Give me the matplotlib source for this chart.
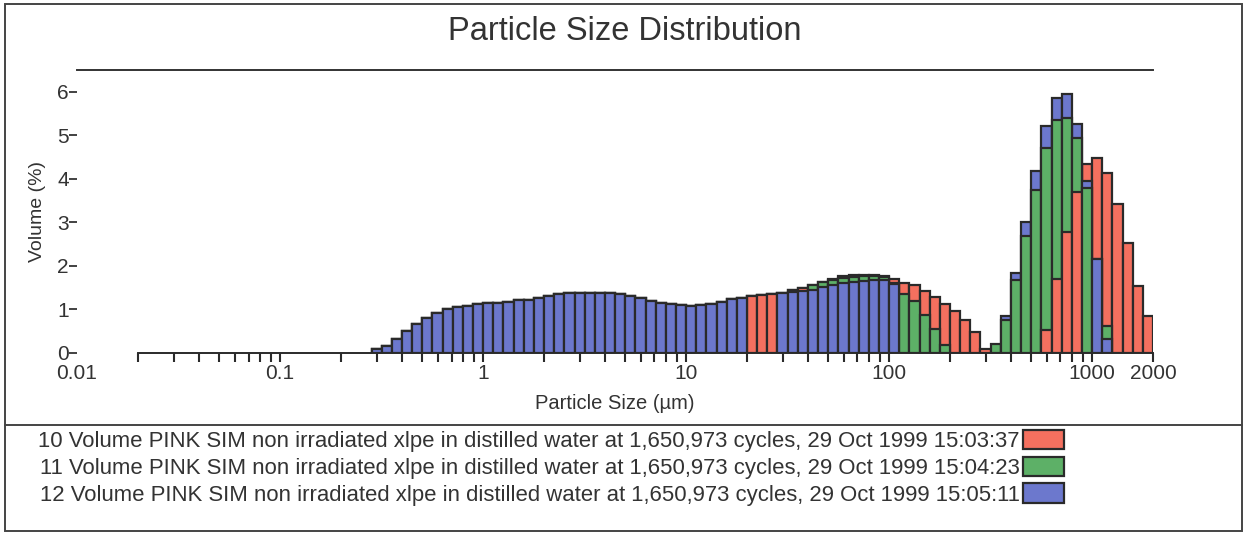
import numpy as np
import matplotlib
matplotlib.use('Agg')
import matplotlib.pyplot as plt
from matplotlib.patches import Patch, Rectangle
from matplotlib.lines import Line2D
from matplotlib.ticker import FixedLocator, NullFormatter

plt.rcParams['font.family'] = ['Liberation Sans', 'DejaVu Sans']

# Mastersizer style grid: 100 log bins, 0.02 .. 2000 um (20 per decade)
N_BINS = 100
FIRST_BIN = 22
bin_edges = 0.02 * 10 ** (np.arange(N_BINS + 1) / 20)

# volume % per bin, starting at bin 22 (~0.25 um)
red_vals = [0.00, 0.07, 0.15, 0.31, 0.50, 0.65, 0.79, 0.92, 0.99, 1.05,
            1.08, 1.12, 1.14, 1.15, 1.16, 1.20, 1.21, 1.26, 1.31, 1.34,
            1.36, 1.38, 1.38, 1.38, 1.37, 1.34, 1.31, 1.25, 1.18, 1.14,
            1.11, 1.09, 1.08, 1.09, 1.12, 1.16, 1.22, 1.26, 1.30, 1.32,
            1.34, 1.38, 1.43, 1.48, 1.56, 1.63, 1.70, 1.75, 1.78, 1.79,
            1.79, 1.77, 1.70, 1.60, 1.55, 1.41, 1.28, 1.12, 0.95, 0.75,
            0.47, 0.09, 0, 0, 0, 0, 0, 0.51, 1.68, 2.77,
            3.70, 4.33, 4.47, 4.14, 3.42, 2.52, 1.53, 0.85]
green_vals = [0.00, 0.07, 0.15, 0.31, 0.50, 0.65, 0.79, 0.92, 0.99, 1.05,
              1.08, 1.12, 1.14, 1.15, 1.16, 1.20, 1.21, 1.26, 1.31, 1.34,
              1.36, 1.38, 1.38, 1.38, 1.37, 1.34, 1.31, 1.25, 1.18, 1.14,
              1.11, 1.09, 1.08, 1.10, 1.12, 1.16, 1.22, 1.26, 1.31, 1.33,
              1.35, 1.38, 1.44, 1.49, 1.55, 1.62, 1.67, 1.71, 1.74, 1.75,
              1.75, 1.73, 1.59, 1.35, 1.18, 0.86, 0.55, 0.18, 0, 0,
              0, 0, 0.19, 0.74, 1.66, 2.67, 3.74, 4.71, 5.34, 5.40,
              4.93, 3.78, 2.16, 0.60, 0, 0, 0, 0]
blue_vals = [0.00, 0.07, 0.15, 0.31, 0.50, 0.65, 0.79, 0.92, 0.99, 1.05,
             1.08, 1.12, 1.14, 1.15, 1.16, 1.20, 1.21, 1.26, 1.31, 1.34,
             1.36, 1.38, 1.38, 1.38, 1.37, 1.34, 1.31, 1.25, 1.18, 1.14,
             1.11, 1.09, 1.08, 1.09, 1.12, 1.16, 1.22, 1.26, 1.31, 1.33,
             1.35, 1.37, 1.40, 1.41, 1.44, 1.50, 1.55, 1.60, 1.63, 1.65,
             1.66, 1.66, 1.58, 0, 0, 0, 0, 0, 0, 0,
             0, 0, 0, 0.85, 1.84, 3.00, 4.17, 5.21, 5.86, 5.94,
             5.26, 3.95, 2.15, 0.32, 0, 0, 0, 0]

labels = [
    "10 Volume PINK SIM non irradiated xlpe in distilled water at 1,650,973 cycles, 29 Oct 1999 15:03:37",
    "11 Volume PINK SIM non irradiated xlpe in distilled water at 1,650,973 cycles, 29 Oct 1999 15:04:23",
    "12 Volume PINK SIM non irradiated xlpe in distilled water at 1,650,973 cycles, 29 Oct 1999 15:05:11",
]
colors = ['#F4705F', '#5DB067', '#6C78CD']
EDGE = '#2a2a2a'
TXT = '#333333'

x_ticks = [0.01, 0.1, 1, 10, 100, 1000, 2000]
x_ticklabels = ['0.01', '0.1', '1', '10', '100', '1000', '2000']

W, H = 1245, 534
fig = plt.figure(figsize=(W / 100, H / 100), dpi=100)
ax = fig.add_axes([77 / W, 1 - 352.5 / H, (1153 - 77) / W, (352.5 - 70) / H])

series = []
for vals in (red_vals, green_vals, blue_vals):
    h = np.zeros(N_BINS)
    h[FIRST_BIN:FIRST_BIN + len(vals)] = vals
    series.append(h)
series = np.array(series)

# overlapping bars: tallest at the back, shorter ones in front
zorders = np.zeros_like(series)
for j in range(N_BINS):
    order = sorted(range(3), key=lambda s: (-series[s, j], s))
    for pos, s in enumerate(order):
        zorders[s, j] = 2 + 0.1 * pos

lefts = bin_edges[:-1]
widths = np.diff(bin_edges)
for s in range(3):
    bars = ax.bar(lefts, series[s], width=widths, align='edge',
                  color=colors[s], edgecolor=EDGE, linewidth=1.6)
    for patch, h, z in zip(bars, series[s], zorders[s]):
        if h <= 0:
            patch.set_visible(False)
        else:
            patch.set_zorder(z)

ax.set_xscale('log')
ax.set_xlim(0.01, 2000)
ax.set_ylim(0, 6.5)

for side in ('left', 'right'):
    ax.spines[side].set_visible(False)
ax.spines['top'].set_color('#333333')
ax.spines['top'].set_linewidth(1.4)
ax.spines['bottom'].set_color(EDGE)
ax.spines['bottom'].set_linewidth(1.4)
ax.spines['bottom'].set_bounds(0.02, 2000)
ax.spines['bottom'].set_zorder(5)

ax.set_xticks(x_ticks)
ax.set_xticklabels(x_ticklabels)
minor = [m * 10.0 ** e for e in range(-2, 3) for m in range(2, 10)]
ax.xaxis.set_minor_locator(FixedLocator(minor))
ax.xaxis.set_minor_formatter(NullFormatter())
ax.tick_params(axis='x', which='both', direction='out', length=6.5, width=1.5,
               color=EDGE, labelcolor=TXT, labelsize=15, pad=2)
ax.xaxis.get_major_ticks()[0].tick1line.set_visible(False)

ax.set_yticks(range(7))
ax.tick_params(axis='y', direction='out', length=6, width=1.3, color=TXT,
               labelcolor=TXT, labelsize=15, pad=0)

ax.set_ylabel('Volume (%)', fontsize=14, color=TXT)
ax.yaxis.set_label_coords(-0.029, 0.5)
ax.set_xlabel('Particle Size (\u00b5m)', fontsize=14.5, color=TXT, va='top')
ax.xaxis.set_label_coords(0.5, -0.147)

fig.text(625 / W, 1 - 31 / H, 'Particle Size Distribution', ha='center', va='center',
         fontsize=23.5, color=TXT)

# outer frame and legend separator
fig.add_artist(Rectangle((5 / W, 1 - 531 / H), (1242 - 5) / W, (531 - 4) / H,
                         transform=fig.transFigure, fill=False, ec='#444444', lw=1.4))
fig.add_artist(Line2D([5 / W, 1242 / W], [1 - 425 / H, 1 - 425 / H],
                      transform=fig.transFigure, color='#444444', lw=1.4))

# fit legend text to the width it takes in the picture
renderer = fig.canvas.get_renderer()
probe = fig.text(0, 0, labels[0], fontsize=10)
w10 = probe.get_window_extent(renderer).width
probe.remove()
leg_fs = 10 * 980 / w10
fs_px = leg_fs * 100 / 72

handles = [Patch(facecolor=c, edgecolor=EDGE, linewidth=1.6) for c in colors]
fig.legend(handles=handles, labels=labels, loc='upper left',
           bbox_to_anchor=(38 / W, 1 - 430 / H), frameon=False, markerfirst=False,
           fontsize=leg_fs, handlelength=41 / fs_px, handleheight=21.5 / fs_px,
           handletextpad=3 / fs_px, labelspacing=0.2, borderpad=0,
           borderaxespad=0, labelcolor=TXT)

fig.savefig('out.png', dpi=100)
